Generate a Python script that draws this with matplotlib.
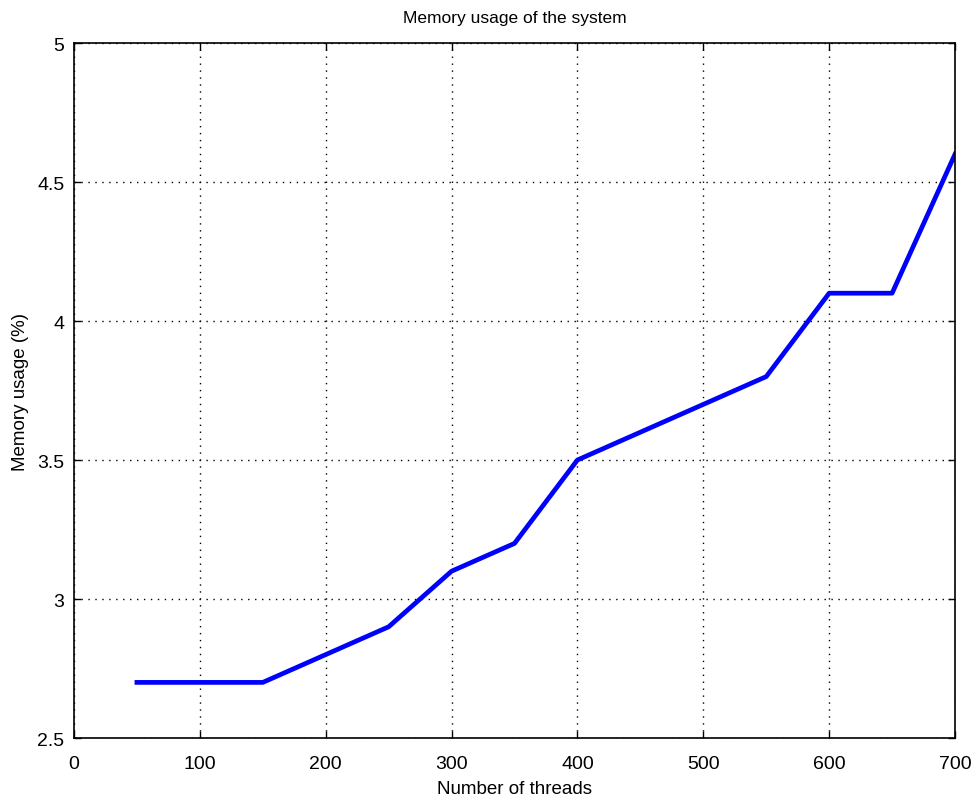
import matplotlib
matplotlib.use("Agg")
import matplotlib.pyplot as plt

threads = [50, 100, 150, 200, 250, 300, 350, 400, 450, 500, 550, 600, 650, 700]
memory = [2.7, 2.7, 2.7, 2.8, 2.9, 3.1, 3.2, 3.5, 3.6, 3.7, 3.8, 4.1, 4.1, 4.6]
xticks = [0, 100, 200, 300, 400, 500, 600, 700]
yticks = [2.5, 3, 3.5, 4, 4.5, 5]
ytick_labels = ["2.5", "3", "3.5", "4", "4.5", "5"]

plt.rcParams['font.family'] = ['Liberation Sans', 'DejaVu Sans']

fig = plt.figure(figsize=(9.76, 8.03), dpi=100)
ax = fig.add_axes([0.0758, 0.0797, 0.9027, 0.8655])
ax.plot(threads, memory, color='#0000ff', linewidth=3.4)
ax.set_xlim(0, 700)
ax.set_ylim(2.5, 5)
ax.set_xticks(xticks)
ax.set_yticks(yticks)
ax.set_yticklabels(ytick_labels)
ax.tick_params(direction='in', top=True, right=True, labelsize=14, length=5, width=1)
ax.tick_params(axis='x', pad=12)
ax.tick_params(axis='y', pad=7)
ax.grid(True, color='black', linestyle=(0, (1, 4)), linewidth=1)
for s in ax.spines.values():
    s.set_linewidth(1.2)
ax.set_xlabel("Number of threads", fontsize=13.5, labelpad=6)
ax.set_ylabel("Memory usage (%)", fontsize=13.5, labelpad=6)
ax.set_title("Memory usage of the system", fontsize=12.5, pad=15)
fig.savefig("out.png", dpi=100)
